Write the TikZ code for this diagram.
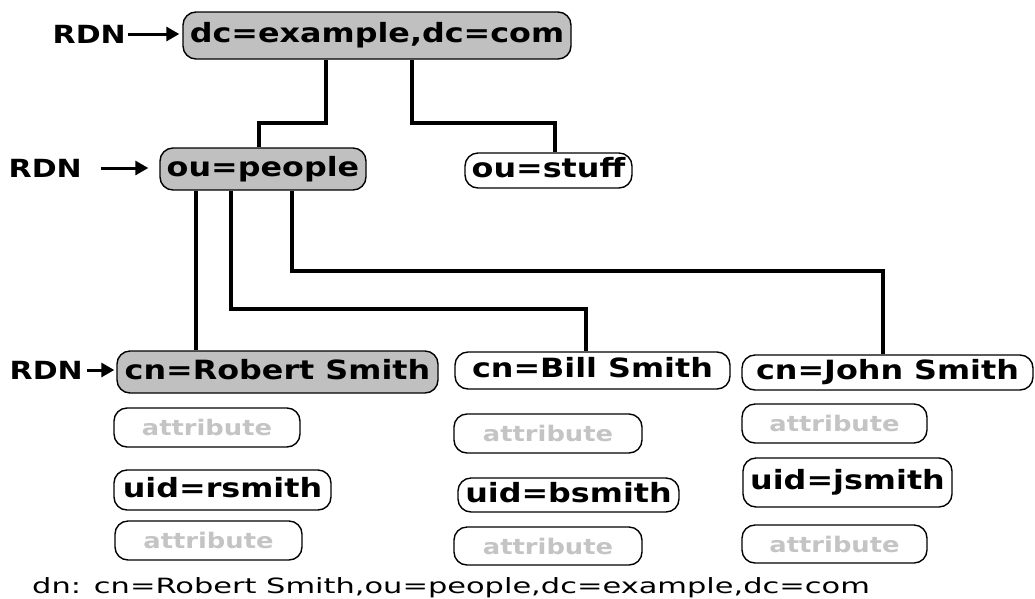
\documentclass[tikz,border=0pt]{standalone}
\usepackage{fontspec}
\newfontfamily\boxfont[FakeStretch=1.2]{DejaVu Sans}
\newfontfamily\dnfont[FakeStretch=1.45]{DejaVu Sans}
\usetikzlibrary{arrows.meta}
\definecolor{boxgray}{HTML}{C0C0C0}
\definecolor{attrgray}{HTML}{C4C4C4}
\begin{document}
\begin{tikzpicture}[x=1pt,y=-1pt,
  entry/.style={draw=black, line width=1.4pt, rounded corners=13pt, inner sep=0pt,
    font=\boxfont\bfseries\fontsize{26.5}{30}\selectfont, text height=19pt, text depth=5pt},
  rdnentry/.style={entry, fill=boxgray},
  attr/.style={draw=black, line width=1.4pt, rounded corners=13pt, inner sep=0pt,
    font=\boxfont\bfseries\fontsize{21.5}{25}\selectfont, text=attrgray, text height=16.5pt, text depth=0pt},
  rdnlabel/.style={anchor=east, inner sep=0pt, font=\boxfont\bfseries\fontsize{25}{29}\selectfont, text height=18.2pt, text depth=0pt},
  rdnarrow/.style={line width=3pt, -{Triangle[length=13pt,width=14pt]}},
  conn/.style={line width=4pt}]
\useasboundingbox (0,0) rectangle (1035,598);

% main entries
\node[rdnentry, minimum width=388pt, minimum height=47pt] (dc) at (377,35.5) {dc=example,dc=com};
\node[rdnentry, minimum width=206pt, minimum height=42pt] (ou) at (263,169) {ou=people};
\node[entry, minimum width=167pt, minimum height=35pt] (stuff) at (548.5,170.5) {ou=stuff};
\node[rdnentry, minimum width=321pt, minimum height=42pt] (rob) at (277.5,372) {cn=Robert Smith};
\node[entry, minimum width=275pt, minimum height=37pt] (bill) at (592.5,370.5) {cn=Bill Smith};
\node[entry, minimum width=291pt, minimum height=35pt] (john) at (887.5,372.5) {cn=John Smith};

% attributes column 1
\node[attr, minimum width=186pt, minimum height=39pt] (a11) at (207,427.5) {attribute};
\node[entry, minimum width=217pt, minimum height=40pt] (u1) at (222.5,490) {uid=rsmith};
\node[attr, minimum width=187pt, minimum height=39pt] (a12) at (208.5,540.5) {attribute};
% column 2
\node[attr, minimum width=188pt, minimum height=39pt] (a21) at (548,433.5) {attribute};
\node[entry, minimum width=221pt, minimum height=34pt] (u2) at (568.5,495) {uid=bsmith};
\node[attr, minimum width=188pt, minimum height=38pt] (a22) at (548,546) {attribute};
% column 3
\node[attr, minimum width=185pt, minimum height=39pt] (a31) at (834.5,423.5) {attribute};
\node[entry, minimum width=209pt, minimum height=49pt] (u3) at (847.5,482.5) {uid=jsmith};
\node[attr, minimum width=185pt, minimum height=38pt] (a32) at (834.5,544) {attribute};

% RDN labels
\node[rdnlabel] (r1) at (126,34) {RDN};
\node[rdnlabel] (r2) at (82,168) {RDN};
\node[rdnlabel] (r3) at (83,370) {RDN};
\draw[rdnarrow, shorten <=2pt, shorten >=3pt] (r1.east) -- (r1.east -| dc.west);
\draw[rdnarrow, shorten <=19pt, shorten >=11pt] (r2.east) -- (r2.east -| ou.west);
\draw[rdnarrow, shorten <=4pt, shorten >=2pt] (r3.east) -- (r3.east -| rob.west);

% connectors
\draw[conn] ([xshift=-51pt]dc.south) -- ++(0,63) -| ([xshift=-4pt]ou.north);
\draw[conn] ([xshift=35pt]dc.south) -- ++(0,63) -| ([xshift=6.5pt]stuff.north);
\draw[conn] ([xshift=-67pt]ou.south) -- ([xshift=-81.5pt]rob.north);
\draw[conn] ([xshift=-32pt]ou.south) -- ++(0,118) -| ([xshift=-6.5pt]bill.north);
\draw[conn] ([xshift=29pt]ou.south) -- ++(0,80) -| ([xshift=-4.5pt]john.north);

% distinguished name
\node[anchor=base west, inner sep=0pt, font=\dnfont\fontsize{21}{24}\selectfont] (dn) at (32,593) {dn: cn=Robert Smith,ou=people,dc=example,dc=com};
\end{tikzpicture}
\end{document}
